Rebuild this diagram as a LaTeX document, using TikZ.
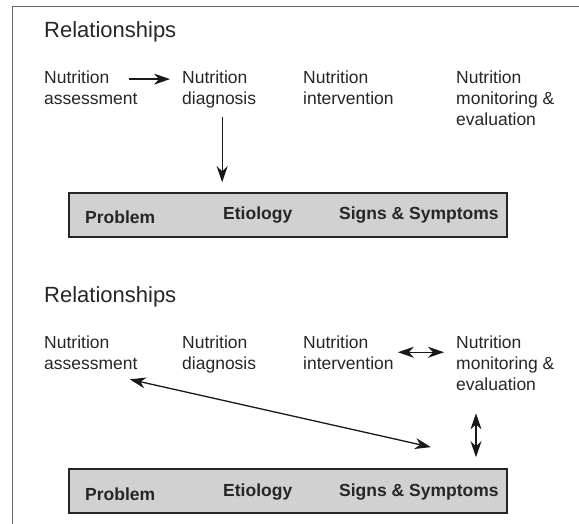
\documentclass[tikz,border=0pt]{standalone}
\usepackage{fontspec}
\setmainfont{Liberation Sans}
\usetikzlibrary{calc,positioning,arrows.meta}

\begin{document}
\begin{tikzpicture}[x=1pt,y=-1pt,>={Stealth[length=16pt,width=11pt,inset=5pt]}]

	\tikzset{
		txt/.style={anchor=base west,inner sep=0pt,align=left,font=\fontsize{17.5}{21}\selectfont,text=black!85},
		head/.style={anchor=base west,inner sep=0pt,font=\fontsize{22}{26}\selectfont,text=black!85},
		probbox/.style={draw=black!85,line width=1.6pt,fill=black!18,minimum width=438pt,minimum height=44pt,inner sep=0pt},
		boxtxt/.style={anchor=base west,inner sep=0pt,font=\fontsize{17.5}{21}\selectfont\bfseries,text=black!85},
		link/.style={line width=1.3pt,draw=black!90}
	}

	\useasboundingbox (0,0) rectangle (579,524);
	\draw[black!60,line width=1pt] (12,524) -- (12,7) -- (579,7);

	% base of a stacked label sits on its last line
	\foreach \s/\dy/\db in {1/0/0, 2/264/276} {
			\node[head] (rel\s) at (44,38+\dy) {Relationships};

			\node[txt] (asmt\s) at (44,105+\dy) {Nutrition\\assessment};
			\node[txt] (diag\s) at (182,105+\dy) {Nutrition\\diagnosis};
			\node[txt] (intv\s) at (303,105+\dy) {Nutrition\\intervention};
			\node[txt] (mon\s) at (456,126+\dy) {Nutrition\\monitoring \&\\evaluation};

			\node[probbox] (box\s) at (288,215+\db) {};
			\node[boxtxt] (prob\s) at (85,224+\db) {Problem};
			\node[boxtxt] (etio\s) at (223,220+\db) {Etiology};
			\node[boxtxt] (sign\s) at (339,220+\db) {Signs \& Symptoms};
		}

	% first set
	\draw[link,->] ([shift={(-9,8)}]asmt1.north east) -- ([shift={(-12,8)}]diag1.north west);
	\draw[link,->] ([shift={(3,8)}]diag1.south) -- ([shift={(3,-10)}]diag1.south |- box1.north);

	% second set
	\draw[link,<->] ([xshift=4pt]intv2.east) -- ([xshift=-12pt]mon2.west |- intv2.east);
	\draw[link,<->] ([shift={(-8,10)}]asmt2.south east) -- ([shift={(12,-36)}]sign2.north);
	\draw[link,<->] ([shift={(20,23)}]mon2.south west) -- ([shift={(20,-11)}]mon2.south west |- box2.north);
\end{tikzpicture}
\end{document}
